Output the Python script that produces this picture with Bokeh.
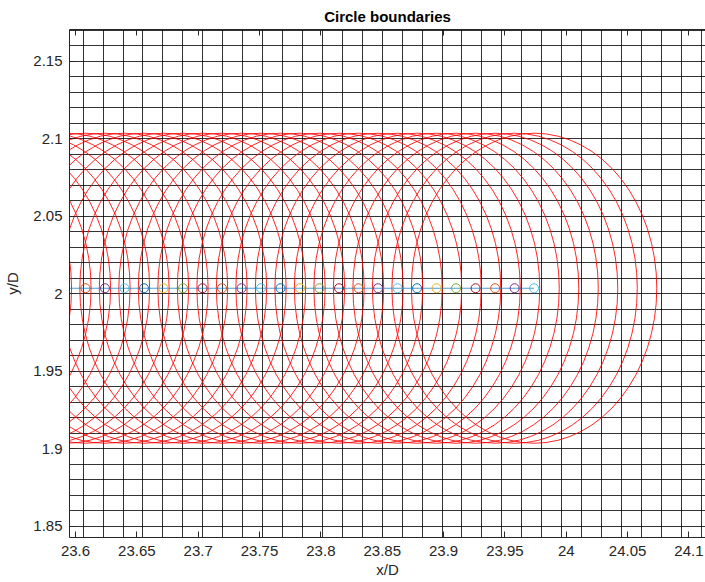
from bokeh.plotting import figure
from bokeh.models import Range1d, FixedTicker, LinearAxis
from bokeh.embed import file_html
from bokeh.resources import INLINE

# Circle centres along the axis (x/D); all share one height and radius
center_x = [23.4968, 23.5127, 23.5286, 23.5445, 23.5604, 23.5763, 23.5922,
            23.6081, 23.6240, 23.6399, 23.6558, 23.6717, 23.6876, 23.7035,
            23.7194, 23.7353, 23.7512, 23.7671, 23.7830, 23.7989, 23.8148,
            23.8307, 23.8466, 23.8625, 23.8784, 23.8943, 23.9102, 23.9261,
            23.9420, 23.9579, 23.9738]
center_y = 2.0036
radius = 0.1

# the first centres lie left of the visible window; markers start here
first_marked = 7

# marker colours for the marked centres (default colour order, every other entry)
marker_colors = ["#D95319", "#7E2F8E", "#4DBEEE", "#0072BD", "#EDB120", "#77AC30", "#A2142F",
                 "#D95319", "#7E2F8E", "#4DBEEE", "#0072BD", "#EDB120", "#77AC30", "#A2142F",
                 "#D95319", "#7E2F8E", "#4DBEEE", "#0072BD", "#EDB120", "#77AC30", "#A2142F",
                 "#D95319", "#7E2F8E", "#4DBEEE"]

# computational mesh lines
mesh_x = [23.6063, 23.6225, 23.6388, 23.6550, 23.6713, 23.6875, 23.7038, 23.7200,
          23.7363, 23.7525, 23.7688, 23.7850, 23.8013, 23.8175, 23.8338, 23.8500,
          23.8663, 23.8825, 23.8988, 23.9150, 23.9313, 23.9475, 23.9638, 23.9800,
          23.9963, 24.0125, 24.0288, 24.0450, 24.0613, 24.0775, 24.0938, 24.1100]
mesh_y = [1.84, 1.85, 1.86, 1.87, 1.88, 1.89, 1.90, 1.91, 1.92, 1.93, 1.94, 1.95,
          1.96, 1.97, 1.98, 1.99, 2.00, 2.01, 2.02, 2.03, 2.04, 2.05, 2.06, 2.07,
          2.08, 2.09, 2.10, 2.11, 2.12, 2.13, 2.14, 2.15, 2.16, 2.17]

x_ticks = [23.6, 23.65, 23.7, 23.75, 23.8, 23.85, 23.9, 23.95, 24.0, 24.05, 24.1]
x_tick_labels = ["23.6", "23.65", "23.7", "23.75", "23.8", "23.85", "23.9",
                 "23.95", "24", "24.05", "24.1"]
y_ticks = [1.85, 1.9, 1.95, 2.0, 2.05, 2.1, 2.15]
y_tick_labels = ["1.85", "1.9", "1.95", "2", "2.05", "2.1", "2.15"]

FONT = "Liberation Sans"
AX_COLOR = "#262626"

p = figure(width=705, height=582,
           x_range=Range1d(23.5951, 24.1135), y_range=Range1d(1.8428, 2.1705),
           min_border_left=69, min_border_right=0, min_border_top=29, min_border_bottom=45,
           output_backend="svg", toolbar_location=None, title="Circle boundaries")
p.outline_line_color = None
p.background_fill_color = "white"

p.title.align = "center"
p.title.text_font = FONT
p.title.text_font_size = "15px"
p.title.text_font_style = "bold"
p.title.text_color = "black"

# mesh drawn as the plot grid
p.xgrid.ticker = FixedTicker(ticks=mesh_x)
p.ygrid.ticker = FixedTicker(ticks=mesh_y)
for g in (p.xgrid, p.ygrid):
    g.grid_line_color = "black"
    g.grid_line_alpha = 0.8
    g.grid_line_width = 1


def style_axis(ax, ticks, labels):
    ax.ticker = FixedTicker(ticks=ticks)
    ax.major_label_overrides = dict(zip(ticks, labels))
    ax.major_tick_in = 6
    ax.major_tick_out = 0
    ax.minor_tick_line_color = None
    ax.axis_line_color = AX_COLOR
    ax.major_tick_line_color = AX_COLOR
    ax.major_label_text_color = AX_COLOR
    ax.major_label_text_font = FONT
    ax.major_label_text_font_size = "15px"
    ax.axis_label_text_font = FONT
    ax.axis_label_text_font_size = "15px"
    ax.axis_label_text_font_style = "normal"
    ax.axis_label_text_color = AX_COLOR


style_axis(p.xaxis[0], x_ticks, x_tick_labels)
style_axis(p.yaxis[0], y_ticks, y_tick_labels)
p.xaxis[0].axis_label = "x/D"
p.yaxis[0].axis_label = "y/D"
p.xaxis[0].major_label_standoff = 8
p.xaxis[0].axis_label_standoff = 2
p.yaxis[0].major_label_standoff = 7
p.yaxis[0].axis_label_standoff = 9

# tick marks along the top edge of the box (no labels there)
top = LinearAxis()
style_axis(top, x_ticks, x_tick_labels)
top.major_label_text_color = None
top.major_label_text_font_size = "1px"
top.major_label_standoff = 0
p.add_layout(top, "above")

# circle boundaries
n = len(center_x)
ys = [center_y] * n
p.ellipse(x=center_x, y=ys, width=2 * radius, height=2 * radius,
          fill_color=None, line_color="red", line_width=1, line_alpha=0.85)

# path of the centres and the centre markers
p.line(center_x, ys, line_color="#0072BD", line_width=1.2, line_alpha=0.7)
p.scatter(center_x[first_marked:], ys[first_marked:], marker="circle", size=9,
          fill_color=None, line_color=marker_colors, line_width=1)

open("out.html", "w").write(file_html(p, INLINE))
